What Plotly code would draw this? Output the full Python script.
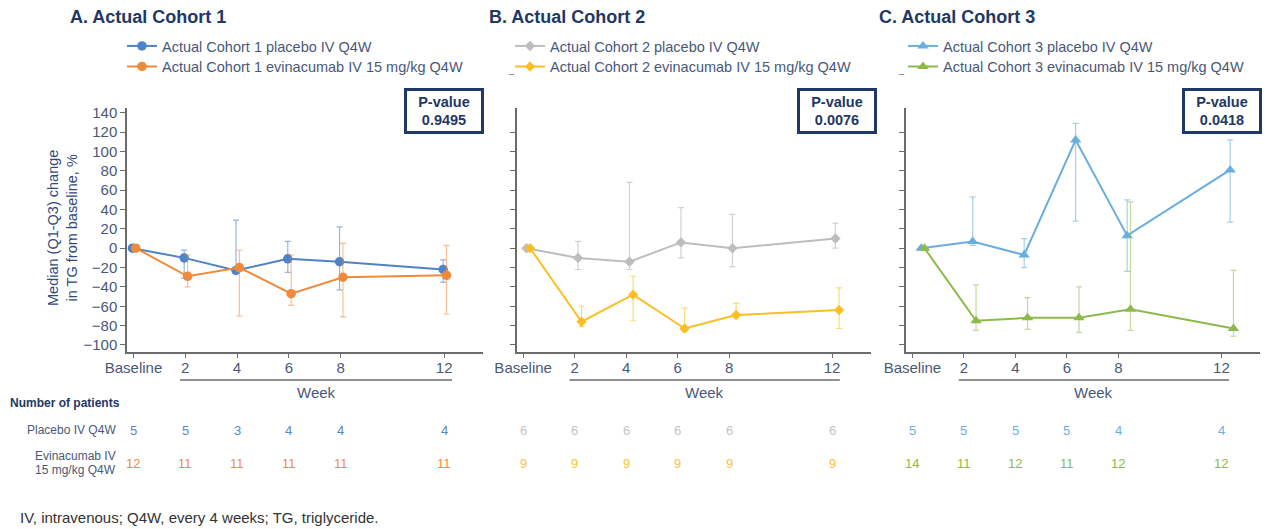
import plotly.graph_objects as go

# ---------------- data ----------------
weeks = [0, 2, 4, 6, 8, 12]
week_labels = ["Baseline", "2", "4", "6", "8", "12"]

c1_placebo_med = [0, -10, -23, -11, -14, -22]
c1_placebo_q1 = [0, -31, -26, -25, -43, -35]
c1_placebo_q3 = [0, -2, 29, 7, 22, -12]
c1_evin_med = [0, -29, -20, -47, -30, -28]
c1_evin_q1 = [0, -40, -70, -59, -71, -68]
c1_evin_q3 = [0, -7, -2, -7, 5, 3]

c2_placebo_med = [0, -10, -14, 6, 0, 10]
c2_placebo_q1 = [0, -22, -22, -10, -19, 0]
c2_placebo_q3 = [0, 7, 68, 42, 35, 26]
c2_evin_med = [0, -76, -48, -83, -69, -64]
c2_evin_q1 = [0, -81, -75, -86, -72, -83]
c2_evin_q3 = [0, -60, -29, -62, -57, -41]

c3_placebo_med = [0, 7, -7, 112, 13, 81]
c3_placebo_q1 = [0, 3, -20, 28, -24, 27]
c3_placebo_q3 = [0, 53, 10, 129, 50, 112]
c3_evin_med = [0, -75, -72, -72, -63, -83]
c3_evin_q1 = [0, -85, -84, -87, -85, -91]
c3_evin_q3 = [0, -38, -51, -40, 48, -23]

c1_n_placebo = [5, 5, 3, 4, 4, 4]
c1_n_evin = [12, 11, 11, 11, 11, 11]
c2_n_placebo = [6, 6, 6, 6, 6, 6]
c2_n_evin = [9, 9, 9, 9, 9, 9]
c3_n_placebo = [5, 5, 5, 5, 4, 4]
c3_n_evin = [14, 11, 12, 11, 12, 12]

p_values = ["0.9495", "0.0076", "0.0418"]
titles = ["A. Actual Cohort 1", "B. Actual Cohort 2", "C. Actual Cohort 3"]
y_ticks_a = [-100, -80, -60, -40, -20, 0, 20, 40, 60, 80, 100, 120, 140]
y_ticks_bc = [-100, -80, -60, -40, -20, 0, 20, 40, 60, 80, 100, 120]

# ---------------- style ----------------
FONT = "Liberation Sans, Arial, sans-serif"
NAVY = "#1f3864"
LABEL = "#4a5878"
AXIS = "#6b6b6b"

panels = [
    dict(name_p="Actual Cohort 1 placebo IV Q4W", name_e="Actual Cohort 1 evinacumab IV 15 mg/kg Q4W",
         med_p=c1_placebo_med, q1_p=c1_placebo_q1, q3_p=c1_placebo_q3,
         med_e=c1_evin_med, q1_e=c1_evin_q1, q3_e=c1_evin_q3,
         col_p="#4f82c6", col_e="#f08a3a", err_p="rgba(79,130,198,0.6)", err_e="rgba(240,138,58,0.55)",
         sym="circle", msize=9.5, off_p=-0.04, off_e=0.09,
         n_p=c1_n_placebo, n_e=c1_n_evin, ncol_p="#5a86c6", ncol_e="#f08c40"),
    dict(name_p="Actual Cohort 2 placebo IV Q4W", name_e="Actual Cohort 2 evinacumab IV 15 mg/kg Q4W",
         med_p=c2_placebo_med, q1_p=c2_placebo_q1, q3_p=c2_placebo_q3,
         med_e=c2_evin_med, q1_e=c2_evin_q1, q3_e=c2_evin_q3,
         col_p="#bdbdbd", col_e="#fbbf24", err_p="rgba(189,189,189,0.7)", err_e="rgba(251,191,36,0.6)",
         sym="diamond", msize=8, off_p=0.13, off_e=0.27,
         n_p=c2_n_placebo, n_e=c2_n_evin, ncol_p="#c4c4c4", ncol_e="#fbc23a"),
    dict(name_p="Actual Cohort 3 placebo IV Q4W", name_e="Actual Cohort 3 evinacumab IV 15 mg/kg Q4W",
         med_p=c3_placebo_med, q1_p=c3_placebo_q1, q3_p=c3_placebo_q3,
         med_e=c3_evin_med, q1_e=c3_evin_q1, q3_e=c3_evin_q3,
         col_p="#6aaee0", col_e="#8cba4a", err_p="rgba(106,174,224,0.6)", err_e="rgba(140,186,74,0.55)",
         sym="triangle-up", msize=10, off_p=0.34, off_e=0.47,
         n_p=c3_n_placebo, n_e=c3_n_evin, ncol_p="#6aaee0", ncol_e="#8cba4a"),
]

W, H = 1266, 529
x_domains = [[127 / W, 483 / W], [516.7 / W, 870.7 / W], [906 / W, 1260 / W]]
y_domain = [1 - 351.7 / H, 1 - 108 / H]
legend_text_x = [162, 550, 943]
legend_rows_y = [46, 66.5]
title_x = [68, 487, 877]
pbox_x = [443.5, 836.7, 1221.7]


def note(text, x, y, xref="paper", xanchor="center", size=13, color=LABEL, **kw):
    fig.add_annotation(text=text, x=x, y=1 - y / H, xref=xref, yref="paper",
                       xanchor=xanchor, yanchor="middle", showarrow=False,
                       font=dict(family=FONT, size=size, color=color), **kw)


fig = go.Figure()

leg_idx = 0
for i, p in enumerate(panels):
    sfx = "" if i == 0 else str(i + 1)
    xa, ya = "x" + sfx, "y" + sfx
    for r, kind in enumerate(("p", "e")):
        leg_idx += 1
        leg = "legend" if leg_idx == 1 else "legend" + str(leg_idx)
        med, q1, q3 = p["med_" + kind], p["q1_" + kind], p["q3_" + kind]
        off = p["off_" + kind]
        fig.add_trace(go.Scatter(
            x=[w + off for w in weeks], y=med, mode="lines+markers",
            name=p["name_" + kind], xaxis=xa, yaxis=ya, legend=leg, showlegend=True,
            line=dict(color=p["col_" + kind], width=2),
            marker=dict(symbol=p["sym"], size=p["msize"], color=p["col_" + kind]),
            error_y=dict(type="data", symmetric=False,
                         array=[b - a for a, b in zip(med, q3)],
                         arrayminus=[a - b for a, b in zip(med, q1)],
                         color=p["err_" + kind], thickness=1.2, width=3),
        ))
        fig.layout[leg] = dict(
            x=(legend_text_x[i] - 40) / W, y=1 - legend_rows_y[r] / H,
            xanchor="left", yanchor="middle", visible=True,
            bgcolor="rgba(0,0,0,0)", borderwidth=0, itemwidth=30,
            font=dict(family=FONT, size=14.5, color=LABEL),
        )

    fig.layout["xaxis" + sfx] = dict(
        domain=x_domains[i], range=[-0.25, 13.5], anchor=ya, automargin=False,
        tickvals=weeks, ticktext=week_labels, ticks="outside", ticklen=5, tickcolor=AXIS,
        ticklabelstandoff=-3,
        showline=True, linecolor=AXIS, linewidth=1.5, showgrid=False, zeroline=False,
        tickfont=dict(family=FONT, size=15, color=LABEL),
    )
    fig.layout["yaxis" + sfx] = dict(
        domain=y_domain, range=[-107, 145], anchor=xa, automargin=False,
        tickvals=y_ticks_a if i == 0 else y_ticks_bc,
        ticktext=[str(v).replace("-", "\u2212") for v in y_ticks_a] if i == 0 else None,
        showticklabels=(i == 0),
        ticks="outside", ticklen=5, tickcolor=AXIS,
        showline=True, linecolor=AXIS, linewidth=1.5, showgrid=False, zeroline=False,
        tickfont=dict(family=FONT, size=15, color=LABEL),
    )

    # panel title
    note("<b>" + titles[i] + "</b>", title_x[i] / W, 17, xanchor="left", size=18, color=NAVY)
    # p-value box
    note("<b>P-value<br>" + p_values[i] + "</b>", pbox_x[i] / W, 110.5, size=14.5, color=NAVY,
         width=70, height=36, borderpad=2, borderwidth=3, bordercolor=NAVY, bgcolor="white")
    # week bracket
    fig.add_shape(type="line", xref=xa, yref="paper", x0=1.8, x1=12.3,
                  y0=1 - 380 / H, y1=1 - 380 / H, line=dict(color="#6b6b6b", width=1.5))
    note("Week", 7.05, 392.5, xref=xa, size=15)
    # patient numbers
    for w, npl, nev in zip(weeks, p["n_p"], p["n_e"]):
        note(str(npl), w, 430, xref=xa, size=13, color=p["ncol_p"])
        note(str(nev), w, 463, xref=xa, size=13, color=p["ncol_e"])

# y axis title
note("Median (Q1-Q3) change<br>in TG from baseline, %", 62 / W, 228, size=14.5, color="#2f4a7c",
     textangle=-90)

# table labels
note("<b>Number of patients</b>", 8 / W, 403, xanchor="left", size=12, color=NAVY)
note("Placebo IV Q4W", 118 / W, 430, xanchor="right", size=12)
note("Evinacumab IV", 118 / W, 456, xanchor="right", size=12)
note("15 mg/kg Q4W", 118 / W, 470, xanchor="right", size=12)

# footnote
note("IV, intravenous; Q4W, every 4 weeks; TG, triglyceride.", 18 / W, 517, xanchor="left",
     size=15, color="#333333")

# small stray dashes next to legends B and C
for xd in (511, 901):
    note("_", xd / W, 70, size=9, color="#555555")

fig.update_layout(
    width=W, height=H, autosize=False, showlegend=True,
    margin=dict(l=0, r=0, t=0, b=0, pad=0, autoexpand=False),
    paper_bgcolor="white", plot_bgcolor="white",
    font=dict(family=FONT, color=LABEL),
)

fig.write_html("out.html")
